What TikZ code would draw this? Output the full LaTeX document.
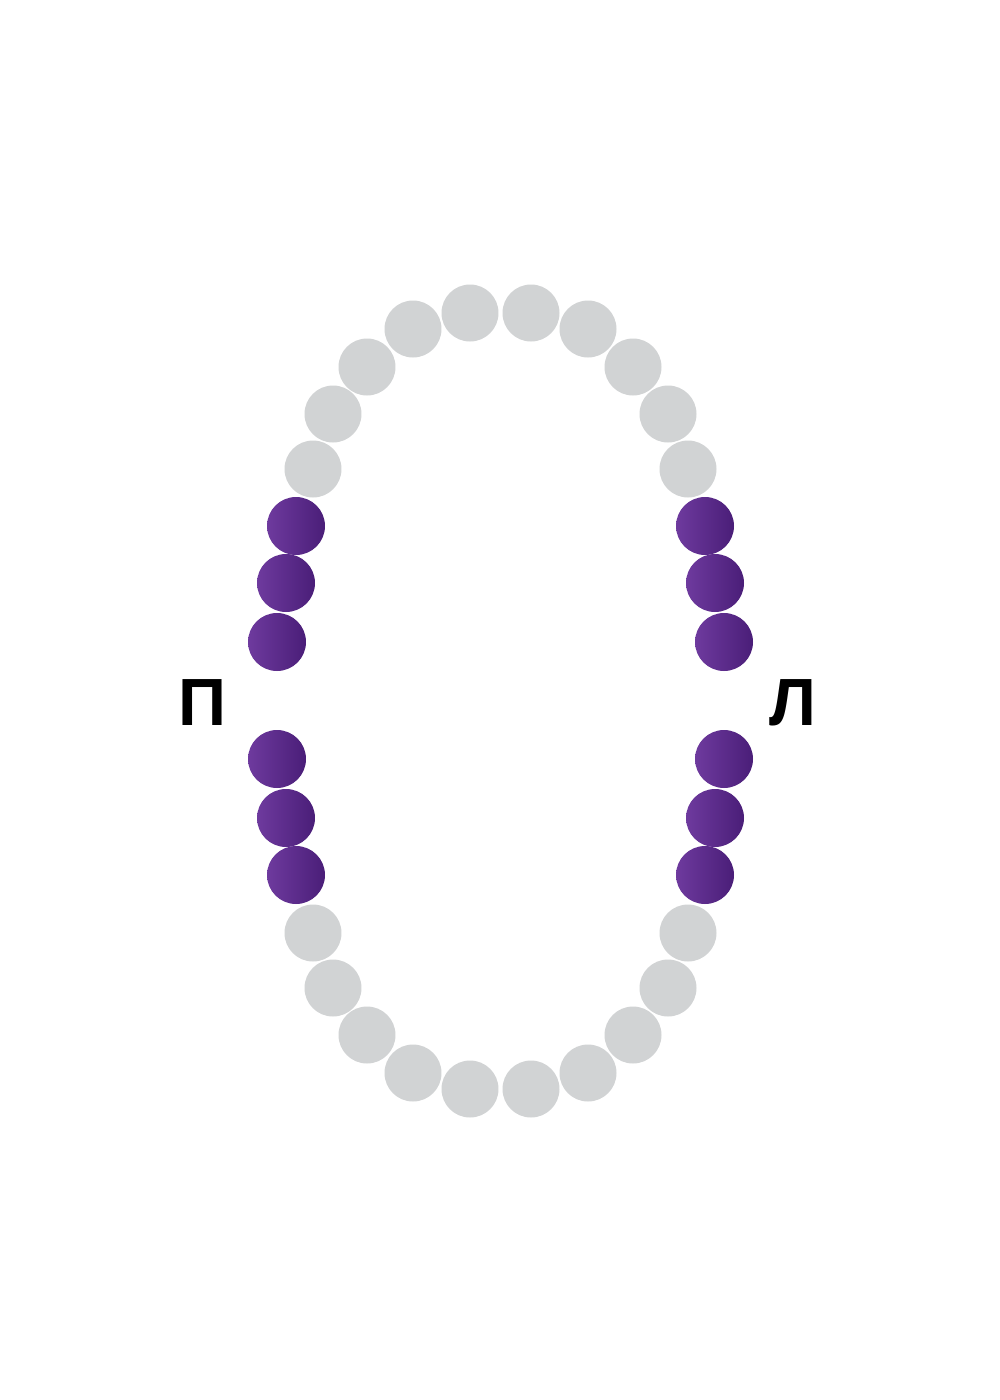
\documentclass[tikz,border=0pt]{standalone}
\usepackage{fontspec}
\setmainfont{Liberation Sans}
\definecolor{toothgray}{HTML}{D1D3D4}
\definecolor{molarlight}{HTML}{6E3A9E}
\definecolor{molardark}{HTML}{4A1E78}
\def \toothSize {1.14cm}
\tikzset{
   tooth/.style={circle, inner sep=0pt, minimum size=\toothSize, fill=toothgray},
   molar/.style={circle, inner sep=0pt, minimum size=1.16cm, left color=molarlight, right color=molardark},
   side/.style={font=\bfseries\fontsize{38}{38}\selectfont, text=black}
}
\begin{document}
\begin{tikzpicture}[x=0.02cm, y=-0.02cm]

      \useasboundingbox[fill=white] (0,0) rectangle (1000,1400);

      \begin{scope}
         \foreach \x/\y [count=\i] in {470/313, 531/313, 413/329, 588/329, 367/367, 633/367, 333/414, 668/414, 313/469, 688/469}
            \node[tooth] (up\i) at (\x, \y) {};
         \foreach \x/\y [count=\i] in {470/1089, 531/1089, 413/1073, 588/1073, 367/1035, 633/1035, 333/988, 668/988, 313/933, 688/933}
            \node[tooth] (down\i) at (\x, \y) {};
      \end{scope}

      \begin{scope}
         \foreach \x/\y [count=\i] in {296/526, 286/583, 277/642, 277/759, 286/818, 296/875}
            \node[molar] (right\i) at (\x, \y) {};
         \foreach \x/\y [count=\i] in {705/526, 715/583, 724/642, 724/759, 715/818, 705/875}
            \node[molar] (left\i) at (\x, \y) {};
      \end{scope}

      \node[side] (sideR) at (202, 703) {П};
      \node[side] (sideL) at (793, 703) {Л};

   \end{tikzpicture}
\end{document}
